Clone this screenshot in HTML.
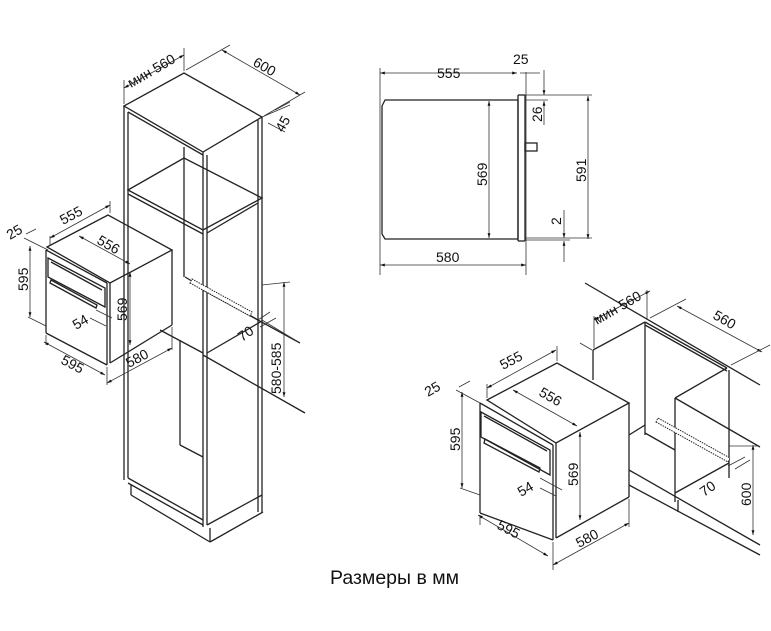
<!DOCTYPE html>
<html><head><meta charset="utf-8"><style>
html,body{margin:0;padding:0;background:#fff}
svg{display:block}
text{font-family:"Liberation Sans",sans-serif;font-size:14px;fill:#111}
.l{stroke:#222;stroke-width:1.3;fill:none}
.t{stroke:#333;stroke-width:0.8;fill:none}
</style></head><body>
<svg width="771" height="631" viewBox="0 0 771 631" xmlns="http://www.w3.org/2000/svg">
<defs><marker id="a" viewBox="0 0 10 10" refX="10" refY="5" markerWidth="6" markerHeight="6" orient="auto-start-reverse"><path d="M0,2L10,5L0,8z" fill="#111"/></marker></defs>

<g class="l">
<polygon points="124,106 184,73 262,117 203,152"/>
<line x1="124" y1="106" x2="124" y2="480"/>
<line x1="128" y1="112" x2="128" y2="478"/>
<line x1="262" y1="117" x2="262" y2="512"/>
<line x1="258" y1="120" x2="258" y2="512"/>
<line x1="203" y1="152" x2="203" y2="527"/>
<line x1="207" y1="155" x2="207" y2="525"/>
<line x1="128" y1="112" x2="203" y2="155"/>
<line x1="184" y1="147" x2="184" y2="277"/>
<line x1="180" y1="340" x2="180" y2="445"/>
<polygon points="128,190 184,158 262,198 203,230"/>
<line x1="128" y1="194" x2="203" y2="234"/>
<line x1="207" y1="233" x2="258" y2="203"/>
<line x1="185" y1="277" x2="258" y2="320"/>
<line x1="203" y1="290" x2="300" y2="343"/>
<line x1="160" y1="330" x2="203" y2="353"/>
<line x1="207" y1="353" x2="262" y2="321"/>
<line x1="203" y1="355" x2="305" y2="413"/>
<line x1="180" y1="445" x2="203" y2="457"/>
<line x1="128" y1="478" x2="203" y2="520"/>
<line x1="128" y1="483" x2="203" y2="525"/>
<line x1="131" y1="485" x2="131" y2="495"/>
<line x1="131" y1="495" x2="210" y2="542"/>
<line x1="210" y1="528" x2="210" y2="542"/>
<line x1="210" y1="542" x2="263" y2="512"/>
<line x1="207" y1="525" x2="262" y2="495"/>
</g>
<path d="M190,283 L250,316 L252,312 L192,279 Z" fill="#fff" stroke="#222" stroke-width="1" stroke-dasharray="1.5,1"/>
<g class="t">
<line x1="124" y1="104" x2="124" y2="80"/>
<line x1="184" y1="71" x2="184" y2="48"/>
<line x1="124" y1="88" x2="184" y2="55" marker-start="url(#a)" marker-end="url(#a)"/>
<line x1="186" y1="70" x2="230" y2="45"/>
<line x1="264" y1="116" x2="305" y2="92"/>
<line x1="222" y1="50" x2="300" y2="95" marker-start="url(#a)" marker-end="url(#a)"/>
<line x1="262" y1="117" x2="290" y2="105"/>
<line x1="275" y1="110" x2="290" y2="102"/>
<line x1="268" y1="123" x2="285" y2="132"/>
<line x1="262" y1="320" x2="300" y2="343"/>
<line x1="284" y1="282" x2="284" y2="397" marker-start="url(#a)" marker-end="url(#a)"/>
<line x1="262" y1="285" x2="290" y2="282"/>
<line x1="258" y1="320" x2="270" y2="312"/>
<line x1="260" y1="327" x2="276" y2="318"/>
</g>
<text transform="translate(131,88) rotate(-30)">мин 560</text>
<text transform="translate(252,65) rotate(30)">600</text>
<text transform="translate(283,133) rotate(-60)">45</text>
<text transform="translate(242,342) rotate(-35)">70</text>
<text transform="translate(281,394) rotate(-90)">580-585</text>

<g class="l">
<polygon points="47,247 108,215 172,250 110,283"/>
<line x1="46" y1="250" x2="46" y2="333"/>
<line x1="46" y1="333" x2="107" y2="365"/>
<line x1="107" y1="283" x2="107" y2="365"/>
<line x1="110" y1="283" x2="110" y2="363"/>
<line x1="172" y1="250" x2="172" y2="325"/>
<line x1="110" y1="363" x2="172" y2="325"/>
<line x1="46" y1="250" x2="107" y2="283"/>
<polygon points="48,258 105,288 105,307 48,277"/>
<line x1="51" y1="262" x2="102" y2="290"/>
<path d="M50,283 L96,308 L97,305 L51,280 Z"/>
</g>
<g class="t">
<line x1="50" y1="238" x2="110" y2="205" marker-start="url(#a)" marker-end="url(#a)"/>
<line x1="50" y1="245" x2="50" y2="236"/>
<line x1="110" y1="213" x2="110" y2="201"/>
<line x1="24" y1="238" x2="48" y2="250"/>
<line x1="26" y1="234" x2="36" y2="229"/>
<line x1="79" y1="236" x2="130" y2="264" marker-start="url(#a)" marker-end="url(#a)"/>
<line x1="30" y1="246" x2="30" y2="317" marker-start="url(#a)" marker-end="url(#a)"/>
<line x1="28" y1="317" x2="46" y2="326"/>
<line x1="44" y1="342" x2="105" y2="375" marker-start="url(#a)" marker-end="url(#a)"/>
<line x1="46" y1="335" x2="46" y2="345"/>
<line x1="107" y1="367" x2="107" y2="385"/>
<line x1="107" y1="383" x2="172" y2="348" marker-start="url(#a)" marker-end="url(#a)"/>
<line x1="172" y1="327" x2="172" y2="350"/>
<line x1="130" y1="272" x2="130" y2="345" marker-start="url(#a)" marker-end="url(#a)"/>
<line x1="96" y1="310" x2="112" y2="318"/>
<line x1="90" y1="318" x2="106" y2="326"/>
</g>
<text transform="translate(63,225) rotate(-28)">555</text>
<text transform="translate(96,243) rotate(30)">556</text>
<text transform="translate(10,240) rotate(-30)">25</text>
<text transform="translate(28,291) rotate(-90)">595</text>
<text transform="translate(127,321) rotate(-90)">569</text>
<text transform="translate(76,330) rotate(-30)">54</text>
<text transform="translate(60,363) rotate(28)">595</text>
<text transform="translate(129,368) rotate(-28)">580</text>

<g class="l">
<path d="M385,100 L518,100 L518,239 L385,239 L382,234 L382,106 Z"/>
<line x1="518" y1="95" x2="525" y2="95"/>
<line x1="518" y1="95" x2="518" y2="241"/>
<line x1="525" y1="95" x2="525" y2="241"/>
<line x1="518" y1="241" x2="525" y2="241"/>
<rect x="525" y="143" width="12" height="8"/>
</g>
<g class="t">
<line x1="380" y1="73" x2="517" y2="73" marker-start="url(#a)" marker-end="url(#a)"/>
<line x1="380" y1="68" x2="380" y2="275"/>
<line x1="526" y1="72" x2="526" y2="275"/>
<line x1="520" y1="73" x2="540" y2="73" />
<line x1="380" y1="265" x2="526" y2="265" marker-start="url(#a)" marker-end="url(#a)"/>
<line x1="489" y1="101" x2="489" y2="238" marker-start="url(#a)" marker-end="url(#a)"/>
<line x1="544" y1="70" x2="544" y2="95" marker-end="url(#a)"/>
<line x1="544" y1="125" x2="544" y2="101" marker-end="url(#a)"/>
<line x1="525" y1="95" x2="592" y2="95"/>
<line x1="525" y1="100" x2="548" y2="100"/>
<line x1="588" y1="96" x2="588" y2="239" marker-start="url(#a)" marker-end="url(#a)"/>
<line x1="525" y1="238" x2="592" y2="238"/>
<line x1="525" y1="240" x2="570" y2="240"/>
<line x1="564" y1="210" x2="564" y2="238" marker-end="url(#a)"/>
<line x1="564" y1="262" x2="564" y2="241" marker-end="url(#a)"/>
</g>
<text x="437" y="78">555</text>
<text x="513" y="64">25</text>
<text x="436" y="262">580</text>
<text transform="translate(487,186) rotate(-90)">569</text>
<text transform="translate(542,122) rotate(-90)">26</text>
<text transform="translate(586,182) rotate(-90)">591</text>
<text transform="translate(561,225) rotate(-90)">2</text>

<g class="l">
<line x1="585" y1="283" x2="760" y2="385"/>
<line x1="593" y1="350" x2="645" y2="322"/>
<line x1="593" y1="350" x2="593" y2="380"/>
<line x1="645" y1="322" x2="727" y2="368"/>
<line x1="645" y1="325" x2="727" y2="371"/>
<line x1="645" y1="322" x2="645" y2="435"/>
<line x1="675" y1="398" x2="727" y2="368"/>
<line x1="675" y1="398" x2="675" y2="502"/>
<line x1="729" y1="370" x2="729" y2="478"/>
<line x1="629" y1="435" x2="645" y2="425"/>
<line x1="645" y1="433" x2="675" y2="450"/>
<line x1="629" y1="470" x2="760" y2="545"/>
<line x1="629" y1="485" x2="760" y2="555"/>
<line x1="675" y1="493" x2="729" y2="463"/>
<line x1="678" y1="500" x2="678" y2="512"/>
<line x1="675" y1="398" x2="760" y2="447"/>
</g>
<path d="M656,422 L728,462 L730,458 L658,418 Z" fill="#fff" stroke="#222" stroke-width="1" stroke-dasharray="1.5,1"/>
<g class="t">
<line x1="594" y1="320" x2="650" y2="291" marker-start="url(#a)" marker-end="url(#a)"/>
<line x1="594" y1="348" x2="594" y2="316"/>
<line x1="647" y1="320" x2="647" y2="290"/>
<line x1="580" y1="343" x2="592" y2="350"/>
<line x1="677" y1="306" x2="762" y2="352" marker-start="url(#a)" marker-end="url(#a)"/>
<line x1="650" y1="318" x2="686" y2="299"/>
<line x1="731" y1="365" x2="770" y2="345"/>
<line x1="753" y1="445" x2="753" y2="535" marker-start="url(#a)" marker-end="url(#a)"/>
<line x1="729" y1="446" x2="757" y2="446"/>
<line x1="728" y1="466" x2="745" y2="457"/>
<line x1="735" y1="469" x2="750" y2="460"/>
</g>
<text transform="translate(597,325) rotate(-30)">мин 560</text>
<text transform="translate(712,318) rotate(30)">560</text>
<text transform="translate(704,497) rotate(-35)">70</text>
<text transform="translate(751,506) rotate(-90)">600</text>

<g class="l">
<polygon points="487,400 557,363 629,403 556,443"/>
<line x1="480" y1="403" x2="553" y2="445"/>
<line x1="480" y1="403" x2="480" y2="513"/>
<line x1="480" y1="513" x2="553" y2="540"/>
<line x1="553" y1="445" x2="553" y2="540"/>
<line x1="556" y1="443" x2="556" y2="538"/>
<line x1="629" y1="403" x2="629" y2="497"/>
<line x1="556" y1="538" x2="629" y2="497"/>
<polygon points="481,412 550,450 550,475 481,437"/>
<line x1="484" y1="416" x2="547" y2="451"/>
<path d="M484,443 L539,472 L540,468 L485,439 Z"/>
</g>
<g class="t">
<line x1="487" y1="388" x2="556" y2="350" marker-start="url(#a)" marker-end="url(#a)"/>
<line x1="487" y1="398" x2="487" y2="384"/>
<line x1="557" y1="361" x2="557" y2="346"/>
<line x1="456" y1="390" x2="480" y2="403"/>
<line x1="459" y1="387" x2="470" y2="381"/>
<line x1="513" y1="390" x2="577" y2="426" marker-start="url(#a)" marker-end="url(#a)"/>
<line x1="462" y1="392" x2="462" y2="488" marker-start="url(#a)" marker-end="url(#a)"/>
<line x1="460" y1="488" x2="480" y2="495"/>
<line x1="580" y1="432" x2="580" y2="520" marker-start="url(#a)" marker-end="url(#a)"/>
<line x1="478" y1="515" x2="548" y2="556" marker-start="url(#a)" marker-end="url(#a)"/>
<line x1="480" y1="515" x2="480" y2="525"/>
<line x1="553" y1="542" x2="553" y2="570"/>
<line x1="553" y1="565" x2="629" y2="523" marker-start="url(#a)" marker-end="url(#a)"/>
<line x1="629" y1="499" x2="629" y2="527"/>
<line x1="540" y1="478" x2="562" y2="490"/>
<line x1="540" y1="488" x2="556" y2="496"/>
</g>
<text transform="translate(503,370) rotate(-28)">555</text>
<text transform="translate(538,395) rotate(30)">556</text>
<text transform="translate(428,397) rotate(-30)">25</text>
<text transform="translate(460,451) rotate(-90)">595</text>
<text transform="translate(578,486) rotate(-90)">569</text>
<text transform="translate(521,497) rotate(-30)">54</text>
<text transform="translate(496,528) rotate(28)">595</text>
<text transform="translate(579,548) rotate(-28)">580</text>

<text x="330" y="584" style="font-size:19.5px">Размеры в мм</text>
</svg>
</body></html>
